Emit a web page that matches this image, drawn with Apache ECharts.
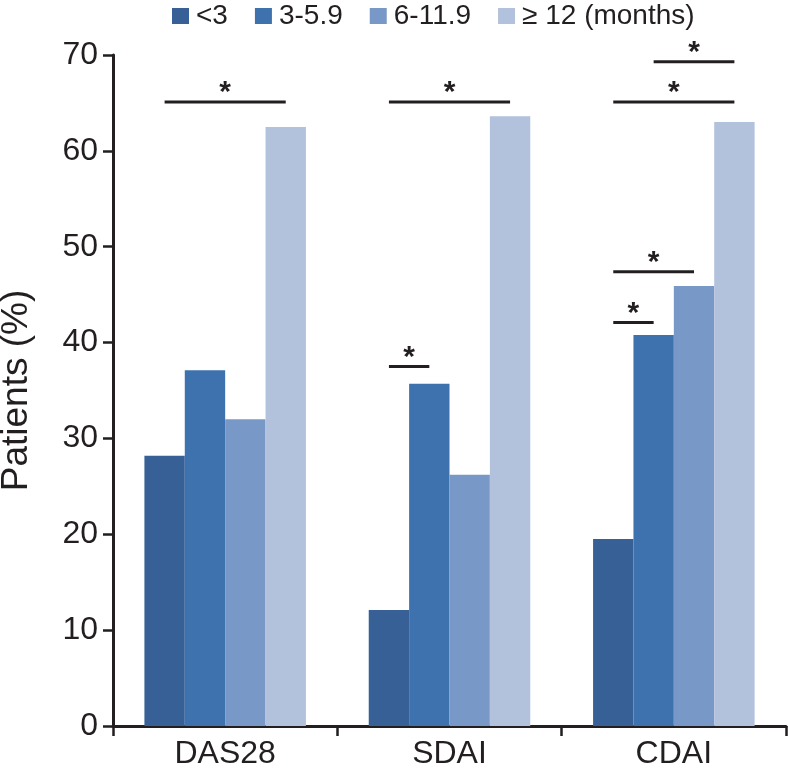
<!DOCTYPE html>
<html lang="en">
<head>
    <meta charset="UTF-8">
    <title>Patients by duration</title>
    <script src="https://cdn.jsdelivr.net/npm/echarts@6/dist/echarts.min.js"></script>
    <style>
        * { margin: 0; padding: 0; }
        body { background: #fff; }
        #chart { width: 788px; height: 775px; }
    </style>
</head>
<body>
    <div id="chart"></div>
    <script>
        // categories and groups
        const categories = ['DAS28', 'SDAI', 'CDAI'];
        const groupNames = ['<3', '3-5.9', '6-11.9', '≥ 12 (months)'];
        const colors = ['#376096', '#3e72ae', '#7898c7', '#b2c1dc'];

        // one array per duration group, values in %
        const lt3 = [28.2, 12.1, 19.5];
        const m3to6 = [37.1, 35.7, 40.8];
        const m6to12 = [32.0, 26.2, 45.9];
        const ge12 = [62.5, 63.6, 63.0];
        const seriesValues = [lt3, m3to6, m6to12, ge12];

        // significance brackets: [category index, from bar, to bar, height]
        const sigBrackets = [
            [0, 0, 3, 65.1],
            [1, 0, 3, 65.1],
            [1, 0, 1, 37.5],
            [2, 0, 3, 65.1],
            [2, 1, 3, 69.3],
            [2, 0, 2, 47.4],
            [2, 0, 1, 42.1]
        ];

        const yTicks = { min: 0, max: 70, interval: 10 };
        const gapRatio = 0.28;
        const font = "'Liberation Sans', Arial, sans-serif";
        const ink = '#231f20';

        const chart = echarts.init(document.getElementById('chart'));

        const bars = groupNames.map((name, i) => ({
            name: name,
            type: 'bar',
            data: seriesValues[i],
            barGap: 0,
            barCategoryGap: (gapRatio * 100) + '%',
            itemStyle: { color: colors[i] },
            silent: true
        }));

        // "*" brackets between bars, positioned from the category scale
        const brackets = {
            type: 'custom',
            data: sigBrackets,
            encode: { x: 0, y: 3 },
            silent: true,
            z: 5,
            renderItem: function (params, api) {
                const c = api.coord([api.value(0), api.value(3)]);
                const catW = api.size([1, 0])[0];
                const bw = catW * (1 - gapRatio) / groupNames.length;
                const x1 = c[0] + (api.value(1) - 1.5) * bw;
                const x2 = c[0] + (api.value(2) - 1.5) * bw;
                return {
                    type: 'group',
                    children: [
                        {
                            type: 'line',
                            shape: { x1: x1, y1: c[1], x2: x2, y2: c[1] },
                            style: { stroke: ink, lineWidth: 3 }
                        },
                        {
                            type: 'text',
                            style: {
                                text: '*',
                                x: (x1 + x2) / 2,
                                y: c[1] - 9,
                                align: 'center',
                                verticalAlign: 'middle',
                                fontSize: 30,
                                fontWeight: 'bold',
                                fontFamily: font,
                                fill: ink
                            }
                        }
                    ]
                };
            }
        };

        const option = {
            animation: false,
            textStyle: { fontFamily: font },
            legend: {
                data: groupNames,
                left: 172,
                top: 2,
                padding: 0,
                icon: 'rect',
                itemWidth: 17,
                itemHeight: 16,
                itemGap: 27,
                textStyle: { fontSize: 28, color: ink, fontFamily: font, padding: [0, 0, 0, 2] }
            },
            grid: { left: 113, right: 2, top: 55, bottom: 49, outerBoundsMode: 'none' },
            xAxis: {
                type: 'category',
                data: categories,
                axisLine: { lineStyle: { color: ink, width: 3 } },
                axisTick: { show: true, length: 10, lineStyle: { color: ink, width: 2.5 } },
                axisLabel: { fontSize: 32, color: ink, margin: 12, fontFamily: font }
            },
            yAxis: {
                type: 'value',
                min: yTicks.min,
                max: yTicks.max,
                interval: yTicks.interval,
                name: 'Patients (%)',
                nameLocation: 'middle',
                nameGap: 78,
                nameTextStyle: { fontSize: 37, color: ink, fontFamily: font },
                axisLine: { show: true, lineStyle: { color: ink, width: 3 } },
                axisTick: { show: true, length: 10, lineStyle: { color: ink, width: 2.5 } },
                axisLabel: { fontSize: 32, color: ink, margin: 15, fontFamily: font },
                splitLine: { show: false }
            },
            series: bars.concat([brackets])
        };

        chart.setOption(option);
    </script>
</body>
</html>
